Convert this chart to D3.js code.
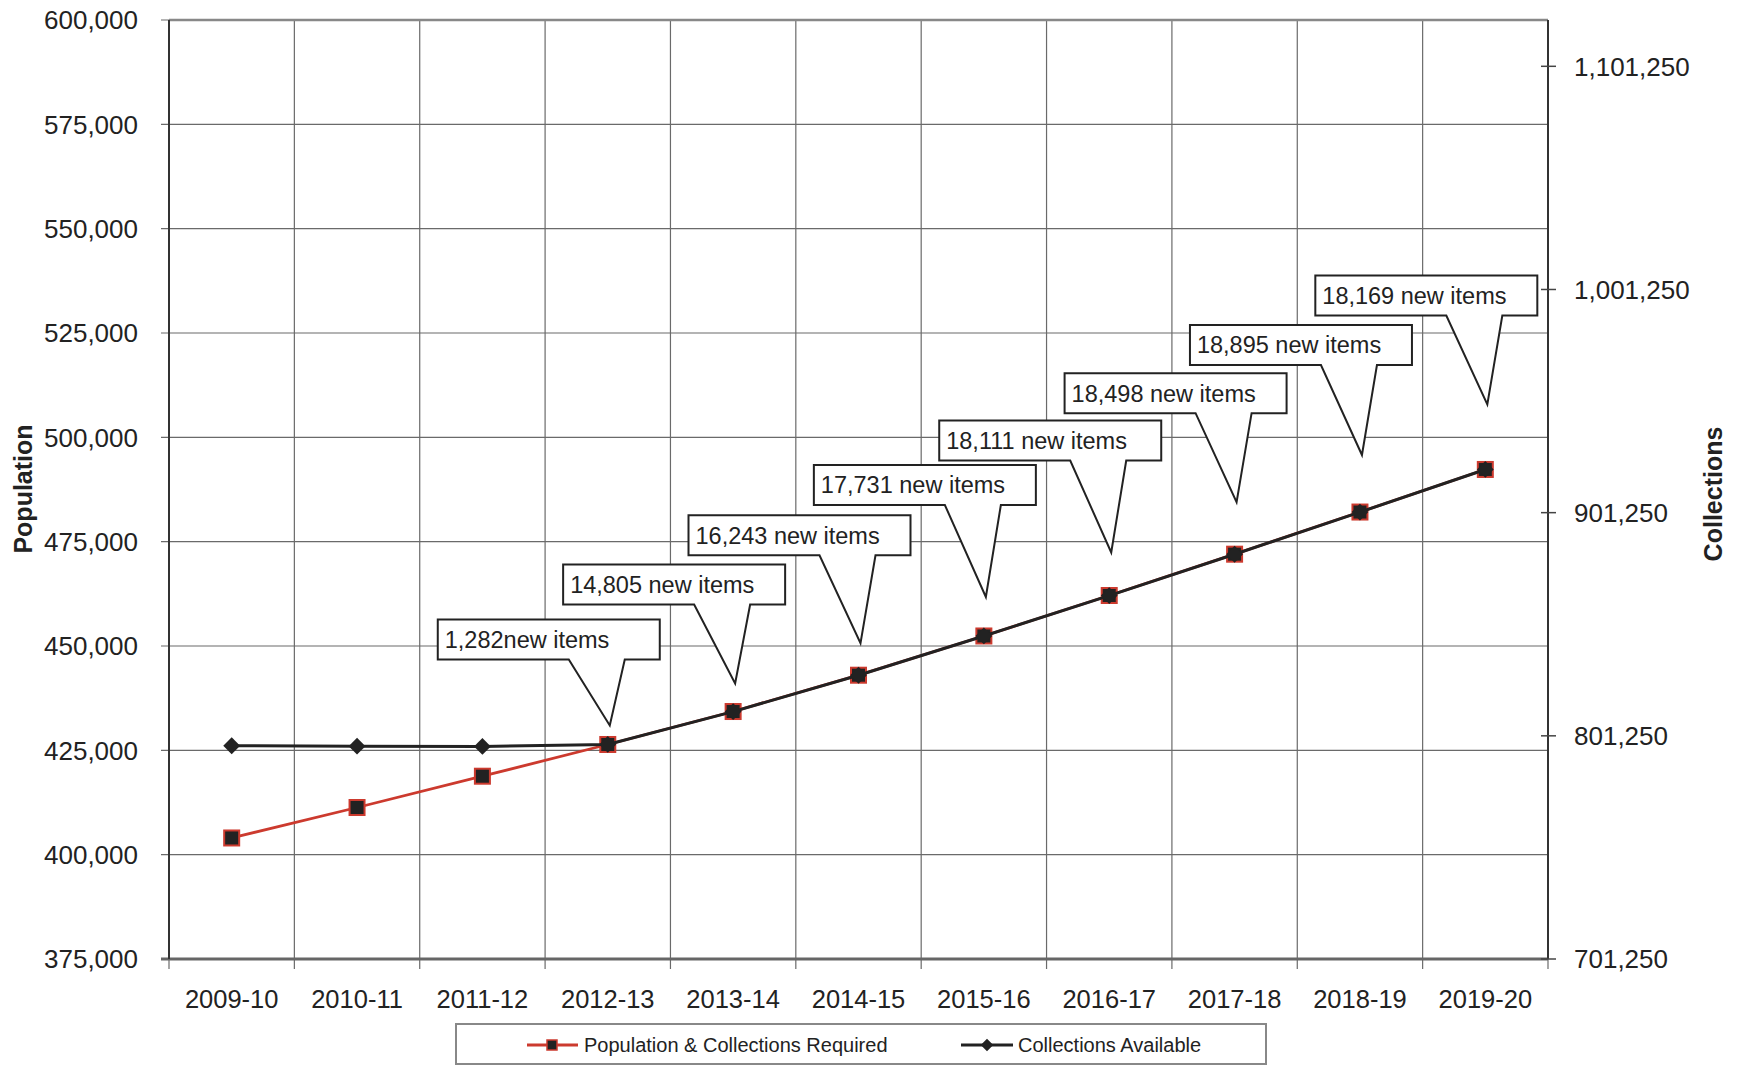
<!DOCTYPE html>
<html>
<head>
<meta charset="utf-8">
<script src="https://cdn.jsdelivr.net/npm/d3@7"></script>
<style>
  body { margin: 0; background: #fff; }
  text { font-family: "Liberation Sans", Arial, sans-serif; fill: #222; }
</style>
</head>
<body>
<script>
"use strict";

// chart data
var years = ["2009-10", "2010-11", "2011-12", "2012-13", "2013-14", "2014-15",
  "2015-16", "2016-17", "2017-18", "2018-19", "2019-20"];
// left axis (population)
var population = [404000, 411300, 418800, 426400, 434300, 443000,
  452400, 462100, 472000, 482100, 492300];
// right axis (collections)
var collectionsAvailable = [796800, 796600, 796500, 797400, 812100, 828400,
  846000, 864100, 882600, 901500, 920600];
var popTicks = [375000, 400000, 425000, 450000, 475000, 500000, 525000, 550000, 575000, 600000];
var collTicks = [701250, 801250, 901250, 1001250, 1101250];
var collDomain = [701250, 1122000];
// callouts: which year they point at and their text
var calloutYears = ["2012-13", "2013-14", "2014-15", "2015-16", "2016-17", "2017-18", "2018-19", "2019-20"];
var calloutTexts = ["1,282new items", "14,805 new items", "16,243 new items", "17,731 new items",
  "18,111 new items", "18,498 new items", "18,895 new items", "18,169 new items"];
// layout of the callouts (px): tip above point, box bottom above tip
var calloutRise = [19, 28, 32, 39, 43, 52, 57, 65];
var calloutDrop = [66, 79, 88, 92, 92, 89, 90, 89];

var W = 1741, H = 1066;
var pL = 169, pR = 1548, pT = 20, pB = 959;
var red = "#cc3a2e", dark = "#222", grid = "#6a6a6a";
var fmt = d3.format(",");

var svg = d3.select("body").append("svg")
  .attr("width", W).attr("height", H);

var x = d3.scaleBand().domain(years).range([pL, pR]);
var bw = x.bandwidth();
var cx = function(d) { return x(d) + bw / 2; };
var y = d3.scaleLinear().domain([popTicks[0], popTicks[popTicks.length - 1]]).range([pB, pT]);
var y2 = d3.scaleLinear().domain(collDomain).range([pB, pT]);

// horizontal grid + left ticks
svg.append("g").selectAll("line").data(popTicks).enter().append("line")
  .attr("x1", pL - 8).attr("x2", pR)
  .attr("y1", function(d) { return y(d); }).attr("y2", function(d) { return y(d); })
  .attr("stroke", grid).attr("stroke-width", 1.2);

// vertical grid on category boundaries + bottom ticks
var bounds = years.map(function(d) { return x(d); }).concat([pR]);
svg.append("g").selectAll("line").data(bounds).enter().append("line")
  .attr("x1", function(d) { return d; }).attr("x2", function(d) { return d; })
  .attr("y1", pT).attr("y2", pB + 10)
  .attr("stroke", grid).attr("stroke-width", 1.2);

// frame
svg.append("line").attr("x1", pL).attr("x2", pR).attr("y1", pT).attr("y2", pT)
  .attr("stroke", "#888").attr("stroke-width", 2.5);
svg.append("line").attr("x1", pL - 8).attr("x2", pR).attr("y1", pB).attr("y2", pB)
  .attr("stroke", "#666").attr("stroke-width", 3);
svg.append("line").attr("x1", pL).attr("x2", pL).attr("y1", pT).attr("y2", pB)
  .attr("stroke", "#333").attr("stroke-width", 2);
svg.append("line").attr("x1", pR).attr("x2", pR).attr("y1", pT).attr("y2", pB)
  .attr("stroke", "#333").attr("stroke-width", 2);

// left tick labels
svg.append("g").selectAll("text").data(popTicks).enter().append("text")
  .attr("x", pL - 31).attr("y", function(d) { return y(d); })
  .attr("dy", "0.36em").attr("text-anchor", "end")
  .style("font-size", "26px").text(fmt);

// right axis ticks + labels
var ra = svg.append("g");
ra.selectAll("line").data(collTicks).enter().append("line")
  .attr("x1", pR - 7).attr("x2", pR + 8)
  .attr("y1", function(d) { return y2(d); }).attr("y2", function(d) { return y2(d); })
  .attr("stroke", "#444").attr("stroke-width", 1.5);
ra.selectAll("text").data(collTicks).enter().append("text")
  .attr("x", pR + 26).attr("y", function(d) { return y2(d); })
  .attr("dy", "0.36em").attr("text-anchor", "start")
  .style("font-size", "26px").text(fmt);

// x labels
svg.append("g").selectAll("text").data(years).enter().append("text")
  .attr("x", cx).attr("y", pB + 40).attr("dy", "0.36em")
  .attr("text-anchor", "middle").style("font-size", "25.5px")
  .text(function(d) { return d; });

// axis titles
svg.append("text").attr("transform", "translate(32,489) rotate(-90)")
  .attr("text-anchor", "middle").style("font-size", "25px").style("font-weight", "bold")
  .text("Population");
svg.append("text").attr("transform", "translate(1722,494) rotate(-90)")
  .attr("text-anchor", "middle").style("font-size", "25px").style("font-weight", "bold")
  .text("Collections");

// series: required (red, squares) under available (black, diamonds)
var popLine = d3.line().x(function(d, i) { return cx(years[i]); }).y(function(d) { return y(d); });
var collLine = d3.line().x(function(d, i) { return cx(years[i]); }).y(function(d) { return y2(d); });

svg.append("path").datum(population).attr("d", popLine)
  .attr("fill", "none").attr("stroke", red).attr("stroke-width", 2.8);
svg.append("g").selectAll("rect").data(population).enter().append("rect")
  .attr("x", function(d, i) { return cx(years[i]) - 7.5; })
  .attr("y", function(d) { return y(d) - 7.5; })
  .attr("width", 15).attr("height", 15)
  .attr("fill", dark).attr("stroke", red).attr("stroke-width", 2);

svg.append("path").datum(collectionsAvailable).attr("d", collLine)
  .attr("fill", "none").attr("stroke", dark).attr("stroke-width", 3);
var diamond = d3.symbol().type(d3.symbolDiamond2).size(180);
svg.append("g").selectAll("path").data(collectionsAvailable).enter().append("path")
  .attr("d", diamond)
  .attr("transform", function(d, i) { return "translate(" + cx(years[i]) + "," + y2(d) + ")"; })
  .attr("fill", dark);

// callouts
var boxW = 222, boxH = 40;
calloutYears.forEach(function(yr, k) {
  var i = years.indexOf(yr);
  var tx = cx(yr) + 2, ty = y(population[i]) - calloutRise[k];
  var L = tx - 172, B = ty - calloutDrop[k], T = B - boxH;
  var p = d3.path();
  p.moveTo(L, T); p.lineTo(L + boxW, T); p.lineTo(L + boxW, B);
  p.lineTo(L + 187, B); p.lineTo(tx, ty); p.lineTo(L + 131, B);
  p.lineTo(L, B); p.closePath();
  svg.append("path").attr("d", p.toString())
    .attr("fill", "#fff").attr("stroke", dark).attr("stroke-width", 2)
    .attr("stroke-linejoin", "miter");
  svg.append("text").attr("x", L + 7).attr("y", T + boxH / 2).attr("dy", "0.36em")
    .style("font-size", "23.5px").text(calloutTexts[k]);
});

// legend
var lg = svg.append("g");
lg.append("rect").attr("x", 456).attr("y", 1024).attr("width", 810).attr("height", 40)
  .attr("fill", "#fff").attr("stroke", "#888").attr("stroke-width", 2);
lg.append("line").attr("x1", 527).attr("x2", 578).attr("y1", 1045).attr("y2", 1045)
  .attr("stroke", red).attr("stroke-width", 2.8);
lg.append("rect").attr("x", 547).attr("y", 1040).attr("width", 10).attr("height", 10)
  .attr("fill", dark).attr("stroke", red).attr("stroke-width", 1.5);
lg.append("text").attr("x", 584).attr("y", 1045).attr("dy", "0.36em")
  .style("font-size", "20px").text("Population & Collections Required");
lg.append("line").attr("x1", 961).attr("x2", 1013).attr("y1", 1045).attr("y2", 1045)
  .attr("stroke", dark).attr("stroke-width", 2.8);
lg.append("path").attr("d", d3.symbol().type(d3.symbolDiamond2).size(100))
  .attr("transform", "translate(987,1045)").attr("fill", dark);
lg.append("text").attr("x", 1018).attr("y", 1045).attr("dy", "0.36em")
  .style("font-size", "20px").text("Collections Available");
</script>
</body>
</html>
